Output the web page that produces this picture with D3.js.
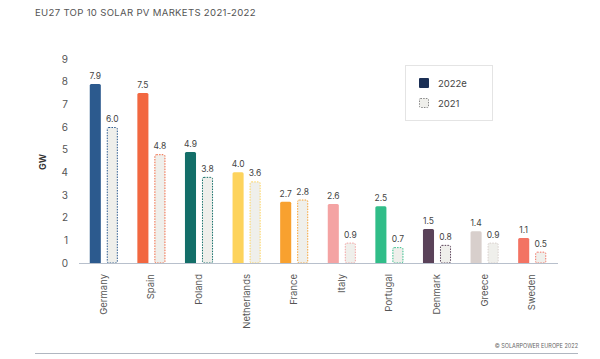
<!DOCTYPE html>
<html>
<head>
<meta charset="utf-8">
<script src="https://cdn.jsdelivr.net/npm/d3@7"></script>
<style>
  body { margin: 0; background: #fff; }
  text { font-family: "Inter", "DejaVu Sans", sans-serif; }
</style>
</head>
<body>
<svg id="chart"></svg>
<script>
var countries = ["Germany", "Spain", "Poland", "Netherlands", "France", "Italy", "Portugal", "Denmark", "Greece", "Sweden"];
var values2022 = [7.9, 7.5, 4.9, 4.0, 2.7, 2.6, 2.5, 1.5, 1.4, 1.1];
var values2021 = [6.0, 4.8, 3.8, 3.6, 2.8, 0.9, 0.7, 0.8, 0.9, 0.5];
var barColors = ["#2c5a8e", "#f26740", "#136e68", "#fdd35c", "#f8a12f", "#f4a3a3", "#30bd88", "#5a4259", "#d8cfcc", "#f37363"];
var seriesNames = ["2022e", "2021"];
var yTicks = [0, 1, 2, 3, 4, 5, 6, 7, 8, 9];

var width = 600, height = 359;
var svg = d3.select("#chart").attr("width", width).attr("height", height);

var x0 = d3.scaleBand().domain(countries).range([80, 556]).paddingInner(0.41).paddingOuter(0.205);
var x1 = d3.scaleBand().domain(seriesNames).range([0, x0.bandwidth()]).paddingInner(0.35);
var y = d3.scaleLinear().domain([0, 9]).range([263, 59]);

// title
svg.append("text")
    .attr("x", 35).attr("y", 16)
    .attr("font-size", 9.6).attr("letter-spacing", 0.3)
    .attr("fill", "#555")
    .text("EU27 TOP 10 SOLAR PV MARKETS 2021-2022");

// y axis labels
svg.selectAll(".ytick").data(yTicks).enter().append("text")
    .attr("class", "ytick")
    .attr("x", 68).attr("y", function (d) { return y(d) + 3.5; })
    .attr("text-anchor", "end")
    .attr("font-size", 10).attr("fill", "#555")
    .text(function (d) { return d; });

svg.append("text")
    .attr("transform", "translate(46,162) rotate(-90)")
    .attr("text-anchor", "middle")
    .attr("font-size", 9).attr("font-weight", "bold").attr("fill", "#333")
    .text("GW");

var groups = svg.selectAll(".grp").data(countries).enter().append("g")
    .attr("class", "grp")
    .attr("transform", function (d) { return "translate(" + x0(d) + ",0)"; });

// 2022e bars, rounded top
groups.append("path")
    .attr("fill", function (d, i) { return barColors[i]; })
    .attr("d", function (d, i) {
        var bx = x1("2022e"), bw = x1.bandwidth(), top = y(values2022[i]), bot = y(0), r = 1.5;
        return "M" + bx + "," + bot + "V" + (top + r) + "Q" + bx + "," + top + " " + (bx + r) + "," + top +
            "H" + (bx + bw - r) + "Q" + (bx + bw) + "," + top + " " + (bx + bw) + "," + (top + r) + "V" + bot + "Z";
    });

// 2021 bars, dotted outline
groups.append("rect")
    .attr("x", x1("2021") + 0.5)
    .attr("y", function (d, i) { return y(values2021[i]) + 0.5; })
    .attr("width", x1.bandwidth() - 1)
    .attr("height", function (d, i) { return y(0) - y(values2021[i]) - 0.5; })
    .attr("rx", 1.5)
    .attr("fill", "#efefeb")
    .attr("stroke", function (d, i) { return barColors[i]; })
    .attr("stroke-width", 1)
    .attr("stroke-dasharray", "1.5,1.2");

// value labels
groups.append("text")
    .attr("x", x1("2022e") + x1.bandwidth() / 2)
    .attr("y", function (d, i) { return y(values2022[i]) - 5; })
    .attr("text-anchor", "middle").attr("font-size", 8.5).attr("fill", "#444")
    .text(function (d, i) { return values2022[i].toFixed(1); });

groups.append("text")
    .attr("x", x1("2021") + x1.bandwidth() / 2)
    .attr("y", function (d, i) { return y(values2021[i]) - 5; })
    .attr("text-anchor", "middle").attr("font-size", 8.5).attr("fill", "#444")
    .text(function (d, i) { return values2021[i].toFixed(1); });

// baseline
svg.append("line")
    .attr("x1", 79).attr("x2", 558)
    .attr("y1", y(0) + 0.5).attr("y2", y(0) + 0.5)
    .attr("stroke", "#b8c0cc").attr("stroke-width", 1);

// country labels
groups.append("text")
    .attr("transform", function () {
        return "translate(" + (x0.bandwidth() / 2 + 3) + "," + (y(0) + 11) + ") rotate(-90)";
    })
    .attr("text-anchor", "end")
    .attr("font-size", 9.5).attr("fill", "#555")
    .text(function (d) { return d; });

// legend
var legend = svg.append("g");
legend.append("rect")
    .attr("x", 405.5).attr("y", 65.5).attr("width", 87).attr("height", 55)
    .attr("fill", "#fff").attr("stroke", "#e4e4e4");
legend.append("rect")
    .attr("x", 419).attr("y", 78).attr("width", 10).attr("height", 10).attr("rx", 1)
    .attr("fill", "#1b2f55");
legend.append("rect")
    .attr("x", 419.5).attr("y", 98.5).attr("width", 9).attr("height", 9).attr("rx", 1)
    .attr("fill", "#efefeb").attr("stroke", "#888").attr("stroke-dasharray", "1.5,1.2");
legend.selectAll(".lt").data(seriesNames).enter().append("text")
    .attr("x", 438).attr("y", function (d, i) { return 87 + i * 20; })
    .attr("font-size", 9.5).attr("fill", "#444")
    .text(function (d) { return d; });

// footer
svg.append("text")
    .attr("x", 578).attr("y", 348)
    .attr("text-anchor", "end")
    .attr("font-size", 5.5).attr("fill", "#666")
    .text("© SOLARPOWER EUROPE 2022");
svg.append("line")
    .attr("x1", 35).attr("x2", 578).attr("y1", 353.5).attr("y2", 353.5)
    .attr("stroke", "#b0b6c0").attr("stroke-width", 1);
</script>
</body>
</html>
